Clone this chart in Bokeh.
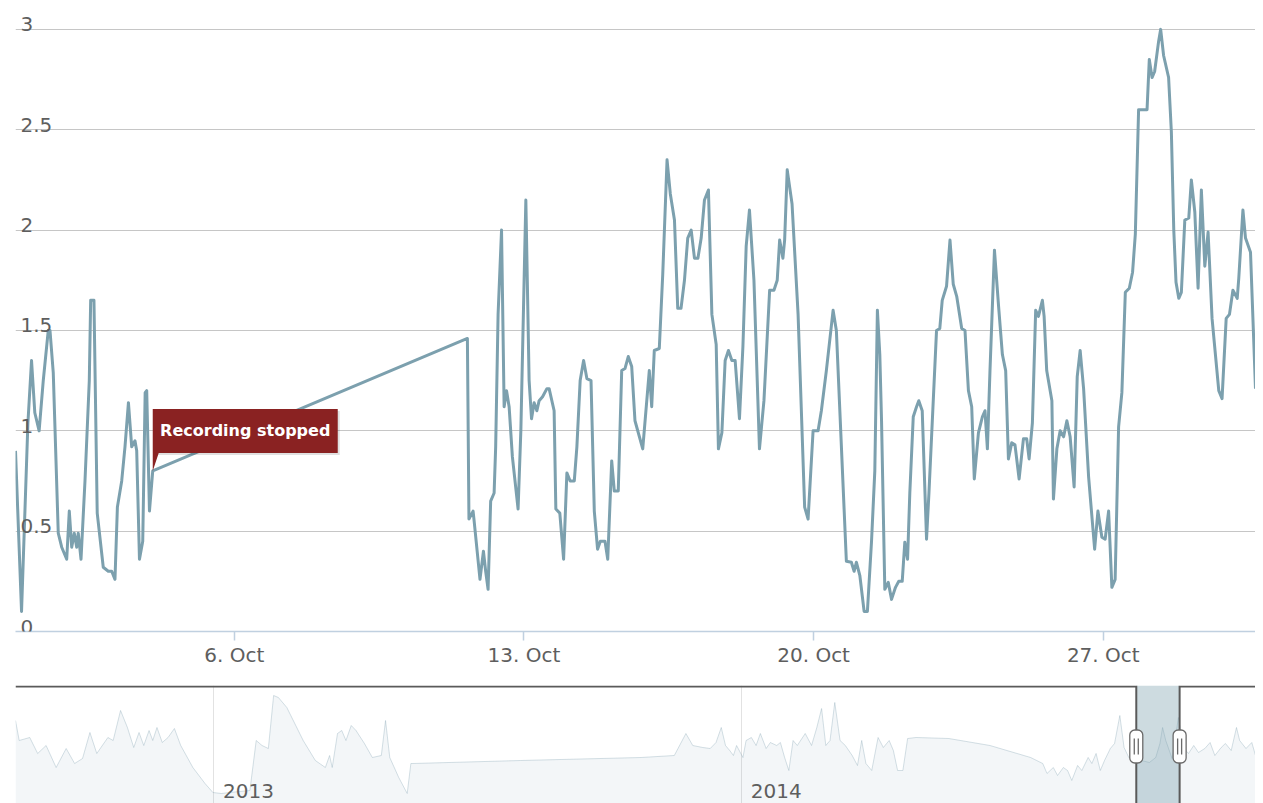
from datetime import datetime
from bokeh.plotting import figure
from bokeh.models import Range1d, FixedTicker, Label, Grid
from bokeh.layouts import column
from bokeh.embed import file_html
from bokeh.resources import INLINE

# ---------------- data ----------------
# main series: hours since 2014-10-01 00:00, value
hours_before_gap = [
    -6.9, -3.4, 0.3, 2.4, 4.3, 6.8, 9.2, 12.1, 13.1, 15.0,
    17.9, 19.9, 22.8, 24.3, 25.7, 27.2, 28.6, 29.5, 31.1, 33.4,
    35.9, 36.7, 38.6, 40.5, 44.0, 46.9, 48.9, 50.8, 52.2, 54.7,
    56.6, 58.6, 60.5, 62.4, 63.4, 65.0, 66.9, 68.3, 69.2, 70.8,
    72.7]
values_before_gap = [
    0.90, 0.10, 1.04, 1.35, 1.09, 1.00, 1.25, 1.50, 1.50, 1.29,
    0.49, 0.42, 0.36, 0.60, 0.42, 0.49, 0.42, 0.49, 0.36, 0.75,
    1.25, 1.65, 1.65, 0.59, 0.32, 0.30, 0.30, 0.26, 0.62, 0.75,
    0.92, 1.14, 0.92, 0.95, 0.90, 0.36, 0.45, 1.19, 1.20, 0.60,
    0.80]

hours_after_gap = [
    255.2, 256.1, 258.5, 259.0, 262.5, 264.5, 265.8, 267.2, 268.7, 270.7,
    271.6, 273.0, 275.0, 276.5, 277.9, 279.4, 281.3, 284.6, 286.2, 289.1,
    291.0, 292.4, 293.9, 295.5, 296.8, 298.8, 301.3, 302.6, 305.5, 306.5,
    308.8, 311.0, 312.9, 314.8, 317.2, 318.7, 320.6, 322.6, 324.5, 326.9,
    328.8, 330.7, 332.3, 335.0, 336.6, 338.9, 340.4, 342.7, 344.7, 346.6,
    348.5, 350.5, 352.4, 356.9, 360.7, 362.1, 363.6, 366.5, 368.5, 371.0,
    372.9, 375.3, 377.2, 379.1, 381.1, 383.0, 385.0, 386.9, 388.9, 390.8,
    392.7, 395.0, 397.0, 399.5, 400.8, 402.8, 404.7, 406.6, 408.6, 410.5,
    413.0, 415.0, 416.9, 418.8, 421.4, 424.6, 427.2, 430.5, 433.0, 434.9,
    436.3, 438.2, 439.2, 440.7, 443.5, 447.0, 450.8, 452.8, 455.7, 458.6,
    460.5, 463.4, 467.3, 469.2, 475.0, 477.9, 479.5, 480.8, 482.8, 485.3,
    487.2, 489.6, 491.5, 493.0, 494.4, 495.4, 497.3, 499.3, 501.2, 503.5,
    505.4, 507.4, 508.9, 510.5, 511.8, 513.8, 515.7, 517.0, 519.0, 521.5,
    522.9, 527.3, 529.2, 530.6, 533.1, 535.1, 537.0, 539.0, 541.9, 543.8,
    545.8, 547.7, 549.2, 551.6, 553.9, 555.4, 556.8, 558.3, 560.9, 563.2,
    565.5, 567.4, 569.0, 570.9, 572.8, 575.2]
values_after_gap = [
    1.46, 0.56, 0.60, 0.56, 0.26, 0.40, 0.30, 0.21, 0.65, 0.69,
    0.92, 1.58, 2.00, 1.12, 1.20, 1.12, 0.87, 0.61, 1.00, 2.15,
    1.25, 1.06, 1.14, 1.10, 1.15, 1.17, 1.21, 1.21, 1.10, 0.61,
    0.59, 0.36, 0.79, 0.75, 0.75, 0.92, 1.25, 1.35, 1.26, 1.25,
    0.60, 0.41, 0.45, 0.45, 0.36, 0.85, 0.70, 0.70, 1.30, 1.31,
    1.37, 1.32, 1.05, 0.91, 1.30, 1.12, 1.40, 1.41, 1.78, 2.35,
    2.18, 2.05, 1.61, 1.61, 1.75, 1.96, 2.00, 1.86, 1.86, 1.96,
    2.15, 2.20, 1.58, 1.43, 0.91, 0.99, 1.35, 1.40, 1.35, 1.35,
    1.06, 1.42, 1.92, 2.10, 1.75, 0.91, 1.15, 1.70, 1.70, 1.75,
    1.95, 1.86, 1.95, 2.30, 2.13, 1.58, 0.62, 0.56, 1.00, 1.00,
    1.10, 1.30, 1.60, 1.50, 0.35, 0.345, 0.30, 0.345, 0.28, 0.10,
    0.10, 0.45, 0.80, 1.60, 1.38, 1.05, 0.21, 0.245, 0.16, 0.22,
    0.25, 0.25, 0.445, 0.36, 0.69, 1.07, 1.12, 1.15, 1.10, 0.46,
    0.69, 1.50, 1.51, 1.65, 1.72, 1.95, 1.73, 1.67, 1.51, 1.50,
    1.20, 1.12, 0.76, 0.99, 1.07, 1.10, 0.91, 1.30, 1.90, 1.63,
    1.38, 1.30, 0.86, 0.94, 0.93, 0.76]

hours_last_days = [
    577.7, 579.6, 581.0, 582.9, 584.8, 586.4, 588.7, 589.7, 591.2, 594.2,
    595.1, 597.1, 599.0, 601.0, 602.9, 604.8, 607.1, 608.9, 610.6, 612.6,
    615.5, 619.0, 620.9, 623.2, 625.1, 627.1, 629.0, 630.9, 632.9, 634.8,
    636.8, 639.1, 641.0, 642.6, 644.5, 649.4, 650.7, 652.3, 653.8, 656.1,
    657.3, 659.0, 661.9, 663.5, 664.9, 666.2, 667.8, 669.3, 671.3, 673.6,
    675.1, 677.1, 679.0, 680.9, 682.9, 684.8, 687.1, 691.0, 692.9, 695.3,
    697.2, 699.2, 701.7, 702.6, 705.0, 706.5, 709.4, 712.3]
values_last_days = [
    0.96, 0.96, 0.86, 1.04, 1.60, 1.57, 1.65, 1.57, 1.30, 1.15,
    0.66, 0.91, 1.00, 0.97, 1.05, 0.97, 0.72, 1.27, 1.40, 1.21,
    0.77, 0.41, 0.60, 0.47, 0.46, 0.60, 0.22, 0.26, 1.02, 1.19,
    1.69, 1.71, 1.79, 1.98, 2.60, 2.60, 2.85, 2.76, 2.79, 2.94,
    3.00, 2.87, 2.76, 2.49, 2.00, 1.74, 1.66, 1.69, 2.05, 2.06,
    2.25, 2.09, 1.71, 2.20, 1.82, 1.99, 1.56, 1.20, 1.16, 1.56,
    1.58, 1.70, 1.66, 1.76, 2.10, 1.96, 1.89, 1.21]

flag_text = "Recording stopped"

x_tick_days = [6, 13, 20, 27]
x_tick_labels = ["6. Oct", "13. Oct", "20. Oct", "27. Oct"]
y_ticks = [0, 0.5, 1, 1.5, 2, 2.5, 3]
y_tick_labels = ["0", "0.5", "1", "1.5", "2", "2.5", "3"]

# navigator series: decimal year, relative value
nav_years = [
    2012.624, 2012.631, 2012.651, 2012.666, 2012.682, 2012.701, 2012.720, 2012.736, 2012.751, 2012.765,
    2012.778, 2012.799, 2012.809, 2012.823, 2012.836, 2012.848, 2012.858, 2012.867, 2012.877, 2012.884,
    2012.892, 2012.902, 2012.913, 2012.925, 2012.937, 2012.960, 2012.983, 2012.998, 2013.014, 2013.030,
    2013.068, 2013.080, 2013.091, 2013.103, 2013.113, 2013.122, 2013.138, 2013.169, 2013.192, 2013.211,
    2013.219, 2013.224, 2013.234, 2013.242, 2013.250, 2013.260, 2013.269, 2013.285, 2013.300, 2013.317,
    2013.325, 2013.333, 2013.350, 2013.366, 2013.373, 2013.377, 2013.581, 2013.809, 2013.872, 2013.894,
    2013.907, 2013.926, 2013.940, 2013.951, 2013.961, 2013.969, 2013.977, 2013.984, 2013.990, 2014.002,
    2014.008, 2014.018, 2014.027, 2014.035, 2014.046, 2014.054, 2014.066, 2014.073, 2014.081, 2014.089,
    2014.097, 2014.105, 2014.120, 2014.132, 2014.142, 2014.151, 2014.159, 2014.167, 2014.176, 2014.186,
    2014.196, 2014.209, 2014.219, 2014.227, 2014.235, 2014.246, 2014.258, 2014.268, 2014.279, 2014.287,
    2014.295, 2014.305, 2014.314, 2014.330, 2014.392, 2014.470, 2014.547, 2014.570, 2014.578, 2014.590,
    2014.598, 2014.609, 2014.617, 2014.625, 2014.636, 2014.644, 2014.656, 2014.663, 2014.671, 2014.679,
    2014.687, 2014.698, 2014.706, 2014.716, 2014.724, 2014.733, 2014.745, 2014.757, 2014.772, 2014.784,
    2014.792, 2014.797, 2014.803, 2014.815, 2014.827, 2014.836, 2014.846, 2014.856, 2014.865, 2014.877,
    2014.887, 2014.896, 2014.908, 2014.916, 2014.927, 2014.937, 2014.943, 2014.955, 2014.966, 2014.973]
nav_values = [
    2.125, 1.625, 1.70, 1.30, 1.50, 0.95, 1.425, 1.05, 1.175, 1.825,
    1.30, 1.70, 1.625, 2.375, 1.95, 1.45, 1.825, 1.50, 1.875, 1.625,
    1.95, 1.575, 1.70, 1.925, 1.50, 0.95, 0.55, 0.325, 0.30, 0.325,
    0.375, 1.625, 1.50, 1.425, 2.75, 2.70, 2.45, 1.625, 1.125, 0.95,
    1.25, 0.95, 1.80, 1.875, 1.625, 2.00, 1.875, 1.55, 1.20, 1.25,
    2.125, 1.20, 0.70, 0.30, 1.05, 1.05, 1.125, 1.20, 1.25, 1.80,
    1.50, 1.45, 1.425, 1.575, 1.95, 1.50, 1.375, 1.25, 1.50, 1.20,
    1.625, 1.70, 1.50, 1.80, 1.425, 1.575, 1.50, 1.575, 1.20, 0.875,
    1.625, 1.50, 1.80, 1.50, 1.95, 2.425, 1.50, 1.625, 2.575, 1.625,
    1.50, 1.25, 1.00, 1.625, 1.05, 0.875, 1.70, 1.45, 1.625, 1.375,
    0.875, 0.875, 1.675, 1.70, 1.675, 1.50, 1.20, 1.05, 0.80, 0.95,
    0.75, 0.95, 0.875, 0.625, 1.00, 0.875, 1.20, 1.05, 1.30, 0.875,
    1.125, 1.425, 1.55, 2.25, 1.45, 1.20, 1.25, 1.125, 1.075, 1.20,
    1.55, 1.95, 1.625, 1.175, 2.20, 1.45, 1.30, 1.50, 1.325, 1.425,
    1.575, 1.25, 1.45, 1.55, 1.375, 1.95, 1.625, 1.425, 1.575, 1.25]
year_ticks = [2013, 2014]
year_labels = ["2013", "2014"]

# ---------------- styling constants ----------------
FONT = "DejaVu Sans"
LINE_COLOR = "#7ca0ae"
LABEL_COLOR = "#5e5e5e"
LEFT = 15
W = 1255
FRAME_W = W - LEFT
MAIN_H = 675
MAIN_TOP = 10
MAIN_FRAME_H = 621
Y_TOP = 3.094

hours = hours_before_gap + hours_after_gap + hours_last_days
values = values_before_gap + values_after_gap + values_last_days
assert len(hours) == len(values)
assert len(nav_years) == len(nav_values)


def drop_default_grids(fig):
    for r in list(fig.center):
        if isinstance(r, Grid):
            r.visible = False


# ---------------- main chart ----------------
p = figure(width=W, height=MAIN_H, output_backend="svg", toolbar_location=None,
           x_range=Range1d(hours[0], hours[-1]), y_range=Range1d(0, Y_TOP),
           y_axis_location=None,
           min_border_left=LEFT, min_border_right=0, min_border_top=MAIN_TOP,
           min_border_bottom=MAIN_H - MAIN_TOP - MAIN_FRAME_H)
p.outline_line_color = None
drop_default_grids(p)
p.add_layout(Grid(dimension=1, ticker=FixedTicker(ticks=y_ticks),
                  grid_line_color="#c6c6c6", grid_line_width=1))

tick_hours = [(d - 1) * 24 for d in x_tick_days]
ax = p.xaxis[0]
ax.ticker = FixedTicker(ticks=tick_hours, minor_ticks=[])
ax.major_label_overrides = {h: lab for h, lab in zip(tick_hours, x_tick_labels)}
ax.axis_line_color = "#c0d0e0"
ax.axis_line_width = 1.5
ax.major_tick_line_color = "#c0d0e0"
ax.major_tick_line_width = 1.5
ax.major_tick_out = 9
ax.major_tick_in = 0
ax.minor_tick_out = 0
ax.minor_tick_in = 0
ax.major_label_standoff = 2
ax.major_label_text_font = FONT
ax.major_label_text_font_size = "20px"
ax.major_label_text_color = LABEL_COLOR

for t, lab in zip(y_ticks, y_tick_labels):
    p.add_layout(Label(x=hours[0], y=t, x_offset=5, y_offset=5, text=lab,
                       text_font=FONT, text_font_size="20px", text_color=LABEL_COLOR,
                       text_align="left", text_baseline="alphabetic"))

p.line(hours, values, line_color=LINE_COLOR, line_width=3, line_join="round")

# flag callout anchored at the last point before the gap
flag_h = hours_before_gap[-1]
flag_v = values_before_gap[-1]
px_per_h = FRAME_W / (hours[-1] - hours[0])
px_per_v = MAIN_FRAME_H / Y_TOP
bx0 = flag_h
bx1 = flag_h + 185 / px_per_h
by0 = flag_v + 18 / px_per_v
by1 = by0 + 44 / px_per_v
p.quad(left=[bx0 + 2 / px_per_h], right=[bx1 + 2 / px_per_h],
       bottom=[by0 - 2 / px_per_v], top=[by1 - 2 / px_per_v],
       fill_color="black", fill_alpha=0.12, line_color=None)
p.quad(left=[bx0], right=[bx1], bottom=[by0], top=[by1],
       fill_color="#8a2222", line_color=None)
p.patch([bx0, bx0, bx0 + 6 / px_per_h], [by0, flag_v, by0],
        fill_color="#8a2222", line_color=None)
p.add_layout(Label(x=(bx0 + bx1) / 2, y=(by0 + by1) / 2, text=flag_text,
                   text_font=FONT, text_font_size="16px", text_font_style="bold",
                   text_color="white", text_align="center", text_baseline="middle"))

# ---------------- navigator ----------------
NAV_H = 803 - MAIN_H
NAV_TOP_BORDER = 10
NAV_FRAME_H = NAV_H - NAV_TOP_BORDER
px_per_unit = 40.0
NAV_TOP = 3.0
NAV_BOTTOM = NAV_TOP - NAV_FRAME_H / px_per_unit
nav = figure(width=W, height=NAV_H, output_backend="svg", toolbar_location=None,
             x_range=Range1d(nav_years[0], nav_years[-1]),
             y_range=Range1d(NAV_BOTTOM, NAV_TOP),
             x_axis_location=None, y_axis_location=None,
             min_border_left=LEFT, min_border_right=0,
             min_border_top=NAV_TOP_BORDER, min_border_bottom=0)
nav.outline_line_color = None
drop_default_grids(nav)
nav.add_layout(Grid(dimension=0, ticker=FixedTicker(ticks=year_ticks),
                    grid_line_color="#e2e2e2", grid_line_width=1))

nav.varea(x=nav_years, y1=NAV_BOTTOM - 1, y2=nav_values, fill_color=LINE_COLOR, fill_alpha=0.09)
nav.line(nav_years, nav_values, line_color=LINE_COLOR, line_alpha=0.32, line_width=1)

oct1 = (datetime(2014, 10, 1) - datetime(2014, 1, 1)).days
sel_start = 2014 + (oct1 * 24 + hours[0]) / 8760
sel_end = 2014 + (oct1 * 24 + hours[-1]) / 8760
nav.quad(left=[sel_start], right=[sel_end], bottom=[NAV_BOTTOM - 1], top=[NAV_TOP],
         fill_color=LINE_COLOR, fill_alpha=0.38, line_color=None)

px_per_year = FRAME_W / (nav_years[-1] - nav_years[0])
top_line = NAV_TOP - 1 / px_per_unit
nav.line([nav_years[0], sel_start, sel_start], [top_line, top_line, NAV_BOTTOM - 1],
         line_color="#5a5a5a", line_width=2, line_join="miter")
nav.line([sel_end, sel_end, nav_years[-1]], [NAV_BOTTOM - 1, top_line, top_line],
         line_color="#5a5a5a", line_width=2, line_join="miter")

handle_y = NAV_TOP - 61 / px_per_unit
nav.rect(x=[sel_start, sel_end], y=[handle_y, handle_y], width=13, height=33,
         width_units="screen", height_units="screen",
         fill_color="white", line_color="#6a6a6a", line_width=1.3, border_radius=5)
dx = 2 / px_per_year
hh = 8 / px_per_unit
nav.segment(x0=[sel_start - dx, sel_start + dx, sel_end - dx, sel_end + dx],
            y0=[handle_y - hh] * 4,
            x1=[sel_start - dx, sel_start + dx, sel_end - dx, sel_end + dx],
            y1=[handle_y + hh] * 4,
            line_color="#6a6a6a", line_width=1.3)

for yr, lab in zip(year_ticks, year_labels):
    nav.add_layout(Label(x=yr, y=NAV_BOTTOM, x_offset=9, y_offset=13, text=lab,
                         text_font=FONT, text_font_size="20px", text_color=LABEL_COLOR,
                         text_align="left", text_baseline="alphabetic"))

layout = column(p, nav, spacing=0)
open("out.html", "w").write(file_html(layout, INLINE))
